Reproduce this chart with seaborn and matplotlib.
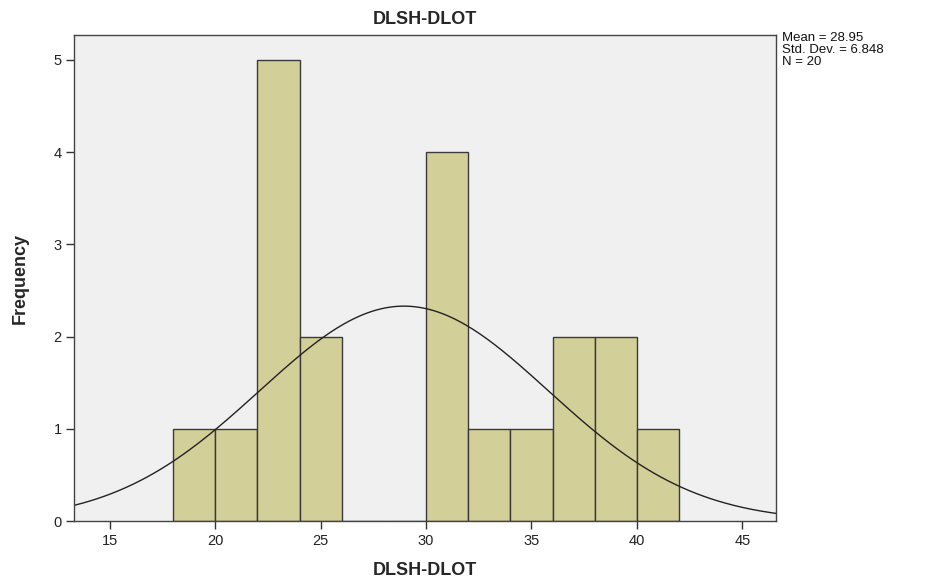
import numpy as np
import matplotlib
matplotlib.use("Agg")
import matplotlib.pyplot as plt
import seaborn as sns

# Dane histogramu (przedziały co 2)
bin_edges = [18, 20, 22, 24, 26, 28, 30, 32, 34, 36, 38, 40, 42]
bin_centers = [19, 21, 23, 25, 27, 29, 31, 33, 35, 37, 39, 41]
counts = [1, 1, 5, 2, 0, 0, 4, 1, 1, 2, 2, 1]

mean_val = 28.95
std_val = 6.848
n_val = 20

sns.set_style("white")
plt.rcParams["font.family"] = ["Liberation Sans", "DejaVu Sans"]

fig = plt.figure(figsize=(9.26, 5.81), dpi=100)
ax = fig.add_axes([0.080, 0.103, 0.758, 0.837])
ax.set_facecolor("#f0f0f0")

sns.histplot(x=bin_centers, weights=counts, bins=bin_edges, color="#d3cf98",
             edgecolor="#3a3a3a", linewidth=1.0, alpha=1.0, ax=ax)

# Krzywa normalna
xs = np.linspace(13.3, 46.6, 300)
binw = bin_edges[1] - bin_edges[0]
ys = n_val * binw / (std_val * np.sqrt(2 * np.pi)) * np.exp(-0.5 * ((xs - mean_val) / std_val) ** 2)
sns.lineplot(x=xs, y=ys, color="#222222", linewidth=1.0, ax=ax)

ax.set_xlim(13.3, 46.6)
ax.set_ylim(0, 5.27)
ax.set_xticks([15, 20, 25, 30, 35, 40, 45])
ax.set_yticks([0, 1, 2, 3, 4, 5])
ax.tick_params(bottom=True, left=True, direction="out", length=6, width=1,
               color="#333333", labelsize=10.5, labelcolor="#222222", pad=3)
for s in ax.spines.values():
    s.set_color("#444444")
    s.set_linewidth(1.0)

ax.set_title("DLSH-DLOT", fontsize=13, fontweight="bold", pad=8)
ax.set_xlabel("DLSH-DLOT", fontsize=13, fontweight="bold", labelpad=10)
ax.set_ylabel("Frequency", fontsize=13, fontweight="bold", labelpad=18)

fig.text(0.845, 0.945, "Mean = %.2f\nStd. Dev. = %.3f\nN = %d" % (mean_val, std_val, n_val),
         fontsize=9.5, va="top", ha="left", linespacing=1.0, color="#111111")

fig.savefig("out.png", dpi=100)
